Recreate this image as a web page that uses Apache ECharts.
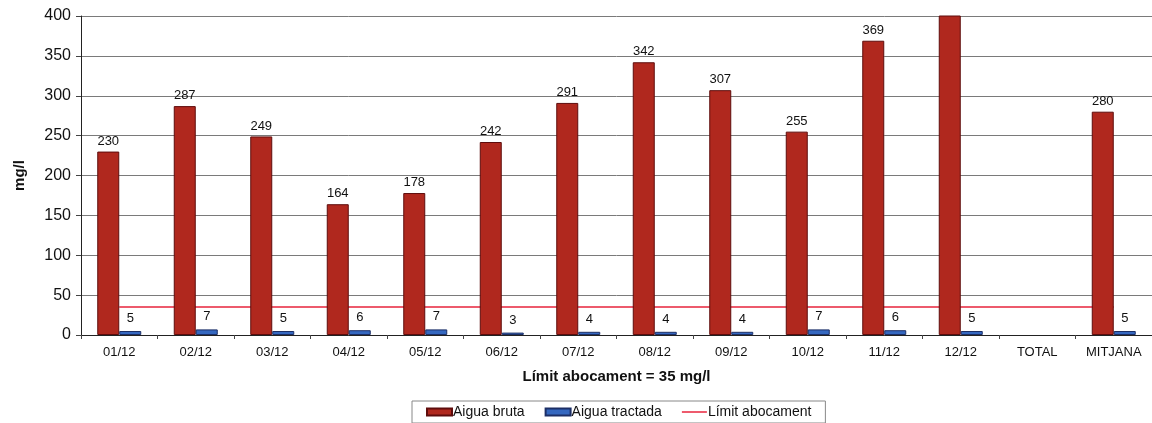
<!DOCTYPE html>
<html>
<head>
<meta charset="utf-8">
<script src="https://cdn.jsdelivr.net/npm/echarts@6/dist/echarts.min.js"></script>
<style>
  html, body { margin: 0; padding: 0; background: #fff; }
  #chart { width: 1152px; height: 423px; }
</style>
</head>
<body>
<div id="chart"></div>
<script>
// Monthly values (mg/l)
const categories = ['01/12', '02/12', '03/12', '04/12', '05/12', '06/12', '07/12', '08/12', '09/12', '10/12', '11/12', '12/12', 'TOTAL', 'MITJANA'];
const aiguaBruta = [230, 287, 249, 164, 178, 242, 291, 342, 307, 255, 369, 405, null, 280];
const aiguaTractada = [5, 7, 5, 6, 7, 3, 4, 4, 4, 7, 6, 5, null, 5];
const limitAbocament = [35, 35, 35, 35, 35, 35, 35, 35, 35, 35, 35, 35, 35, 35];
const yTicks = { min: 0, max: 400, interval: 50 };

const FONT = 'Liberation Sans, Arial, sans-serif';

// The 12/12 raw-water bar runs past the top of the axis; its label is not shown
const brutaData = aiguaBruta.map(v => v !== null && v > yTicks.max
  ? { value: v, label: { show: false } }
  : v);

const chart = echarts.init(document.getElementById('chart'), null, { renderer: 'canvas' });
chart.setOption({
  animation: false,
  backgroundColor: '#ffffff',
  textStyle: { fontFamily: FONT },
  grid: { left: 81, right: 0, top: 16, bottom: 88 },
  legend: {
    left: 412,
    top: 401,
    padding: [4, 14, 4, 14],
    borderColor: '#888',
    borderWidth: 1,
    itemWidth: 25,
    itemHeight: 7,
    itemGap: 20,
    textStyle: { fontFamily: FONT, fontSize: 14, color: '#111', padding: [0, 0, 0, -4] },
    data: [
      { name: 'Aigua bruta', icon: 'rect' },
      { name: 'Aigua tractada', icon: 'rect' },
      { name: 'Límit abocament', icon: 'path://M0,0 L25,0 L25,1.5 L0,1.5 Z' }
    ]
  },
  xAxis: {
    type: 'category',
    data: categories,
    name: 'Límit abocament = 35 mg/l',
    nameLocation: 'middle',
    nameGap: 34,
    nameTextStyle: { fontFamily: FONT, fontSize: 15, fontWeight: 'bold', color: '#111' },
    axisLine: { lineStyle: { color: '#222', width: 1 } },
    axisTick: { show: true, alignWithLabel: false, length: 4, lineStyle: { color: '#444' } },
    axisLabel: { fontFamily: FONT, fontSize: 13, color: '#111', margin: 11 },
    splitLine: { show: false }
  },
  yAxis: {
    type: 'value',
    min: yTicks.min,
    max: yTicks.max,
    interval: yTicks.interval,
    name: 'mg/l',
    nameLocation: 'middle',
    nameGap: 54,
    nameRotate: 90,
    nameTextStyle: { fontFamily: FONT, fontSize: 15, fontWeight: 'bold', color: '#111' },
    axisLine: { show: true, lineStyle: { color: '#222', width: 1 } },
    axisTick: { show: true, length: 5, lineStyle: { color: '#444' } },
    axisLabel: { fontFamily: FONT, fontSize: 16, color: '#111', margin: 10 },
    splitLine: { show: true, lineStyle: { color: '#7a7a7a', width: 1 } }
  },
  series: [
    {
      name: 'Aigua bruta',
      type: 'bar',
      data: brutaData,
      barWidth: 22,
      barGap: '0%',
      clip: true,
      z: 3,
      itemStyle: { color: '#b0281e', borderColor: '#5e0c0c', borderWidth: 1 },
      label: { show: true, position: 'top', distance: 4, fontFamily: FONT, fontSize: 13, color: '#111' }
    },
    {
      name: 'Aigua tractada',
      type: 'bar',
      data: aiguaTractada,
      barWidth: 22,
      barGap: '0%',
      z: 3,
      itemStyle: { color: '#3568c0', borderColor: '#1c2f66', borderWidth: 1 },
      label: { show: true, position: 'top', distance: 6, fontFamily: FONT, fontSize: 13, color: '#111' }
    },
    {
      name: 'Límit abocament',
      type: 'line',
      data: limitAbocament,
      symbol: 'none',
      z: 2,
      lineStyle: { color: '#e8243c', width: 1.5 },
      itemStyle: { color: '#e8243c' }
    }
  ]
});
</script>
</body>
</html>
